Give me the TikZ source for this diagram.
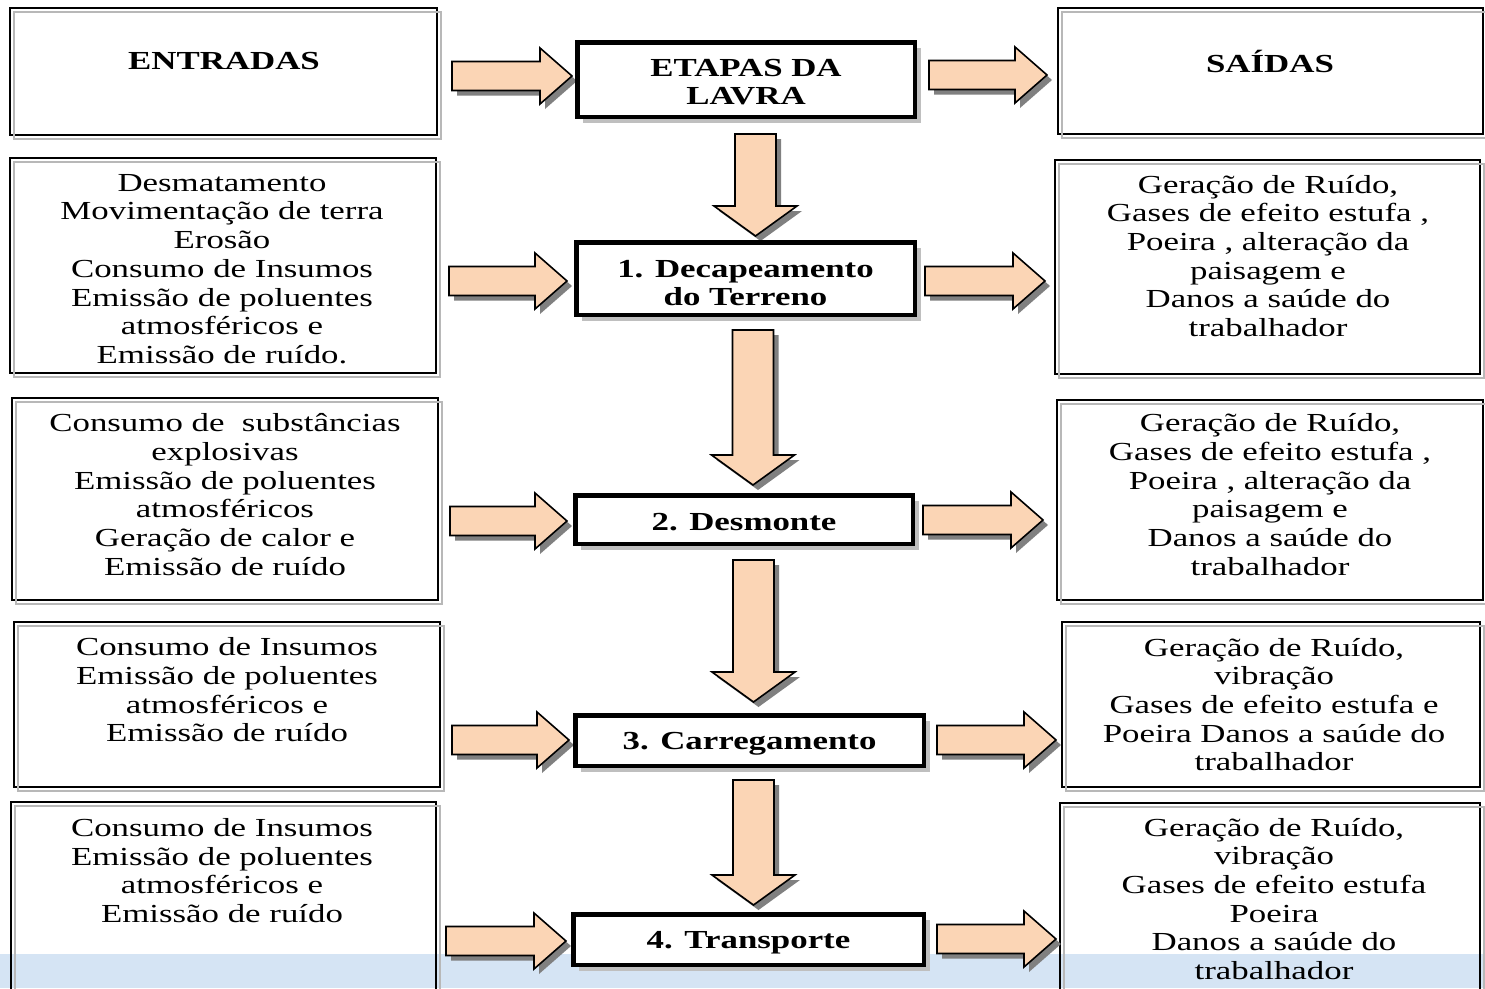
\documentclass[tikz,border=0pt]{standalone}
\usepackage{fontspec}
\setmainfont{Liberation Serif}[FakeStretch=1.34]
\usetikzlibrary{shadows}
\definecolor{peach}{HTML}{FBD5B5}
\definecolor{ashadow}{HTML}{808080}
\definecolor{bandblue}{HTML}{D5E4F4}
\tikzset{
  blockarrow/.style={fill=peach, draw=black, line width=1.6pt, line join=miter},
  arrowshadow/.style={fill=ashadow, shift={(5,5)}},
  sidebox/.style={draw=black, line width=1.3pt, rectangle, inner sep=0pt, outer sep=0pt, anchor=north west},
  sideshadow/.style={draw=black!28, line width=1.3pt},
  stagebox/.style={draw=black, fill=white, line width=4.5pt, rectangle, inner sep=0pt, outer sep=0pt,
    drop shadow={shadow xshift=6pt, shadow yshift=-6pt, fill=black!25, opacity=1}},
  stagetext/.style={align=center, font=\fontsize{26}{28}\selectfont\bfseries, inner sep=0pt},
  bodytext/.style={align=center, font=\fontsize{26}{28.7}\selectfont, inner sep=0pt},
  headtext/.style={align=center, font=\fontsize{26}{28}\selectfont\bfseries, inner sep=0pt},
}
\newcommand\harr[3]{%
  \fill[arrowshadow] (#1,{#3-14.5}) -- ({#2-32},{#3-14.5}) -- ({#2-32},{#3-28}) -- (#2,#3) -- ({#2-32},{#3+28}) -- ({#2-32},{#3+14.5}) -- (#1,{#3+14.5}) -- cycle;
  \draw[blockarrow] (#1,{#3-14.5}) -- ({#2-32},{#3-14.5}) -- ({#2-32},{#3-28}) -- (#2,#3) -- ({#2-32},{#3+28}) -- ({#2-32},{#3+14.5}) -- (#1,{#3+14.5}) -- cycle;}
\newcommand\varr[3]{%
  \fill[arrowshadow] ({#1-20.5},#2) -- ({#1+20.5},#2) -- ({#1+20.5},{#3-30}) -- ({#1+41.5},{#3-30}) -- (#1,#3) -- ({#1-41.5},{#3-30}) -- ({#1-20.5},{#3-30}) -- cycle;
  \draw[blockarrow] ({#1-20.5},#2) -- ({#1+20.5},#2) -- ({#1+20.5},{#3-30}) -- ({#1+41.5},{#3-30}) -- (#1,#3) -- ({#1-41.5},{#3-30}) -- ({#1-20.5},{#3-30}) -- cycle;}
\newcommand\sshadow[1]{\draw[sideshadow] ([shift={(4,4)}]#1.north west) rectangle ([shift={(4,4)}]#1.south east);}
\begin{document}
\begin{tikzpicture}[x=1pt,y=-1pt]
\useasboundingbox (0,0) rectangle (1485,988);
\clip (0,0) rectangle (1485,988);
\fill[white] (0,0) rectangle (1485,988);
\fill[bandblue] (0,954) rectangle (1485,988);

% side boxes (left)
\node[sidebox, minimum width=427, minimum height=127] (in0) at (10,8) {};
\node[sidebox, minimum width=426, minimum height=215] (in1) at (10,158) {};
\node[sidebox, minimum width=426, minimum height=202] (in2) at (12,398) {};
\node[sidebox, minimum width=426, minimum height=165] (in3) at (14,622) {};
\node[sidebox, minimum width=425, minimum height=220] (in4) at (11,802) {};
% side boxes (right)
\node[sidebox, minimum width=425, minimum height=126] (out0) at (1058,8) {};
\node[sidebox, minimum width=425, minimum height=214] (out1) at (1055,160) {};
\node[sidebox, minimum width=426, minimum height=200] (out2) at (1057,400) {};
\node[sidebox, minimum width=418, minimum height=165] (out3) at (1062,622) {};
\node[sidebox, minimum width=420, minimum height=220] (out4) at (1060,803) {};
\foreach \b in {in0,in1,in2,in3,in4,out0,out1,out2,out3,out4} {\sshadow{\b}}

% texts
\node[headtext] (tin0) at (224,61) {ENTRADAS};
\node[headtext] (tout0) at (1270,61) {SAÍDAS};
\node[bodytext] (tin1) at (222,269) {Desmatamento\\Movimentação de terra\\Erosão\\Consumo de Insumos\\Emissão de poluentes\\atmosféricos e\\Emissão de ruído.};
\node[bodytext] (tin2) at (225,494.5) {Consumo de\ \ substâncias\\explosivas\\Emissão de poluentes\\atmosféricos\\Geração de calor e\\Emissão de ruído};
\node[bodytext] (tin3) at (227,690) {Consumo de Insumos\\Emissão de poluentes\\atmosféricos e\\Emissão de ruído};
\node[bodytext] (tin4) at (222,870.5) {Consumo de Insumos\\Emissão de poluentes\\atmosféricos e\\Emissão de ruído};
\node[bodytext] (tout1) at (1268,256) {Geração de Ruído,\\Gases de efeito estufa ,\\Poeira , alteração da\\paisagem e\\Danos a saúde do\\trabalhador};
\node[bodytext] (tout2) at (1270,494.5) {Geração de Ruído,\\Gases de efeito estufa ,\\Poeira , alteração da\\paisagem e\\Danos a saúde do\\trabalhador};
\node[bodytext] (tout3) at (1274,704.5) {Geração de Ruído,\\vibração\\Gases de efeito estufa e\\Poeira Danos a saúde do\\trabalhador};
\node[bodytext] (tout4) at (1274,899) {Geração de Ruído,\\vibração\\Gases de efeito estufa\\Poeira\\Danos a saúde do\\trabalhador};

% arrows
\harr{452}{572}{76}
\harr{449}{567}{281}
\harr{450}{567}{521}
\harr{452}{569}{740}
\harr{446}{566}{941}
\harr{929}{1047}{75}
\harr{925}{1045}{281}
\harr{923}{1043}{520}
\harr{937}{1056}{740}
\harr{937}{1056}{939}
\varr{755.5}{134}{236}
\varr{753}{330}{485}
\varr{753.5}{560}{702}
\varr{753.5}{780}{905}

% stage boxes
\node[stagebox, minimum width=337.5, minimum height=74.5] (s0) at (746,79.5) {};
\node[stagebox, minimum width=338.5, minimum height=72.5] (s1) at (745.5,278.5) {};
\node[stagebox, minimum width=337.5, minimum height=48.5] (s2) at (744,519.5) {};
\node[stagebox, minimum width=348.5, minimum height=50.5] (s3) at (749.5,740.5) {};
\node[stagebox, minimum width=350.5, minimum height=50.5] (s4) at (748.5,939.5) {};
\node[stagetext] (s0t) at (746,82.5) {ETAPAS DA\\LAVRA};
\node[stagetext] (s1t) at (745.5,283) {1. Decapeamento\\do Terreno};
\node[stagetext] (s2t) at (744,522.5) {2. Desmonte};
\node[stagetext] (s3t) at (749.5,744) {3. Carregamento};
\node[stagetext] (s4t) at (748.5,943) {4. Transporte};
\end{tikzpicture}
\end{document}
